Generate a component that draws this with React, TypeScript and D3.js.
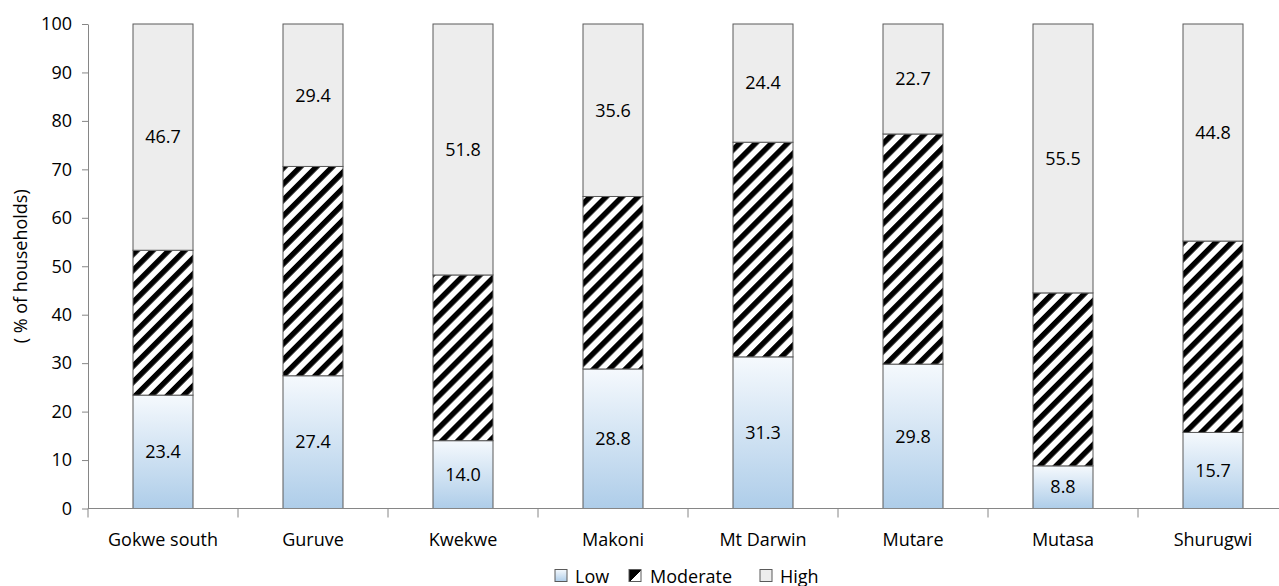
import React, { useEffect, useRef } from "react";
import * as d3 from "d3";

const categories = ["Gokwe south", "Guruve", "Kwekwe", "Makoni", "Mt Darwin", "Mutare", "Mutasa", "Shurugwi"];
const lowValues = [23.4, 27.4, 14.0, 28.8, 31.3, 29.8, 8.8, 15.7];
const moderateValues = [29.9, 43.2, 34.2, 35.6, 44.3, 47.5, 35.7, 39.5];
const highValues = [46.7, 29.4, 51.8, 35.6, 24.4, 22.7, 55.5, 44.8];
const yTicks = [0, 10, 20, 30, 40, 50, 60, 70, 80, 90, 100];
const seriesNames = ["Low", "Moderate", "High"];

const W = 1279;
const H = 586;
const FONT = "'Open Sans', sans-serif";

export default function App() {
  const ref = useRef<SVGSVGElement>(null);

  useEffect(() => {
    const svg = d3.select(ref.current!);
    svg.selectAll("*").remove();

    const defs = svg.append("defs");
    const grad = defs.append("linearGradient").attr("id", "lowGrad").attr("x1", 0).attr("y1", 0).attr("x2", 0).attr("y2", 1);
    grad.append("stop").attr("offset", "0%").attr("stop-color", "#f5f9fd");
    grad.append("stop").attr("offset", "100%").attr("stop-color", "#aecde9");

    const pat = defs.append("pattern").attr("id", "hatch").attr("patternUnits", "userSpaceOnUse")
      .attr("width", 11.3).attr("height", 11.3).attr("patternTransform", "rotate(45)");
    pat.append("rect").attr("width", 11.3).attr("height", 11.3).attr("fill", "#ffffff");
    pat.append("rect").attr("x", 0).attr("width", 5.4).attr("height", 11.3).attr("fill", "#000000");

    const legPat = defs.append("linearGradient").attr("id", "legMod").attr("x1", 0).attr("y1", 0).attr("x2", 1).attr("y2", 1);
    legPat.append("stop").attr("offset", "55%").attr("stop-color", "#000");
    legPat.append("stop").attr("offset", "55%").attr("stop-color", "#fff");

    const x = d3.scaleBand<string>().domain(categories).range([88, 1288]).paddingInner(0.6).paddingOuter(0.3);
    const y = d3.scaleLinear().domain([0, 100]).range([508.5, 24]);

    const axisColor = "#868686";
    const g = svg.append("g");

    const rows = categories.map((c, i) => ({ cat: c, Low: lowValues[i], Moderate: moderateValues[i], High: highValues[i] }));
    const stack = d3.stack<any>().keys(seriesNames)(rows);
    const fills: Record<string, string> = { Low: "url(#lowGrad)", Moderate: "url(#hatch)", High: "#ededed" };

    stack.forEach((layer) => {
      const key = layer.key;
      const lg = g.append("g");
      lg.selectAll("rect").data(layer).join("rect")
        .attr("x", (d: any) => x(d.data.cat)!)
        .attr("width", x.bandwidth())
        .attr("y", (d: any) => y(d[1]))
        .attr("height", (d: any) => y(d[0]) - y(d[1]))
        .attr("fill", fills[key])
        .attr("stroke", "#5a5a5a")
        .attr("stroke-width", 1);
      if (key !== "Moderate") {
        lg.selectAll("text").data(layer).join("text")
          .attr("x", (d: any) => x(d.data.cat)! + x.bandwidth() / 2)
          .attr("y", (d: any) => (y(d[0]) + y(d[1])) / 2)
          .attr("dy", "0.35em")
          .attr("text-anchor", "middle")
          .attr("font-family", FONT)
          .attr("font-size", 18)
          .attr("fill", "#000")
          .text((d: any) => (d[1] - d[0]).toFixed(1));
      }
    });

    const yAxis = g.append("g").attr("transform", "translate(88,0)")
      .call(d3.axisLeft(y).tickValues(yTicks).tickSize(6).tickSizeOuter(0).tickPadding(10));
    yAxis.select(".domain").attr("stroke", axisColor);
    yAxis.selectAll(".tick line").attr("stroke", axisColor);
    yAxis.selectAll(".tick text").attr("font-family", FONT).attr("font-size", 18).attr("fill", "#000");

    const xAxisG = g.append("g").attr("transform", `translate(0,${y(0)})`);
    xAxisG.append("line").attr("x1", 88).attr("x2", 1288).attr("stroke", axisColor);
    const step = x.step();
    const boundaries = d3.range(categories.length + 1).map((i) => x(categories[0])! - x.paddingOuter() * step + i * step);
    xAxisG.selectAll("line.tk").data(boundaries).join("line").attr("class", "tk")
      .attr("x1", (d) => d).attr("x2", (d) => d).attr("y1", 0).attr("y2", 9).attr("stroke", axisColor);
    xAxisG.selectAll("text").data(categories).join("text")
      .attr("x", (d) => x(d)! + x.bandwidth() / 2)
      .attr("y", 37)
      .attr("text-anchor", "middle")
      .attr("font-family", FONT).attr("font-size", 18).attr("fill", "#000")
      .text((d) => d);

    g.append("text")
      .attr("transform", `translate(27,${(y(0) + y(100)) / 2}) rotate(-90)`)
      .attr("text-anchor", "middle")
      .attr("font-family", FONT).attr("font-size", 18).attr("fill", "#000")
      .text("( % of households)");

    const legendItems = [
      { name: "Low", fill: "url(#lowGrad)", sx: 555, tx: 575 },
      { name: "Moderate", fill: "url(#legMod)", sx: 629, tx: 650 },
      { name: "High", fill: "#ededed", sx: 760, tx: 780 },
    ];
    const lg = g.append("g");
    legendItems.forEach((it) => {
      lg.append("rect").attr("x", it.sx).attr("y", 569.5).attr("width", 12).attr("height", 12)
        .attr("fill", it.fill).attr("stroke", "#5a5a5a").attr("stroke-width", 1);
      lg.append("text").attr("x", it.tx).attr("y", 582.5)
        .attr("font-family", FONT).attr("font-size", 18).attr("fill", "#000").text(it.name);
    });
  }, []);

  return (
    <svg ref={ref} width={W} height={H} style={{ position: "absolute", left: 0, top: 0, background: "#fff" }} />
  );
}
